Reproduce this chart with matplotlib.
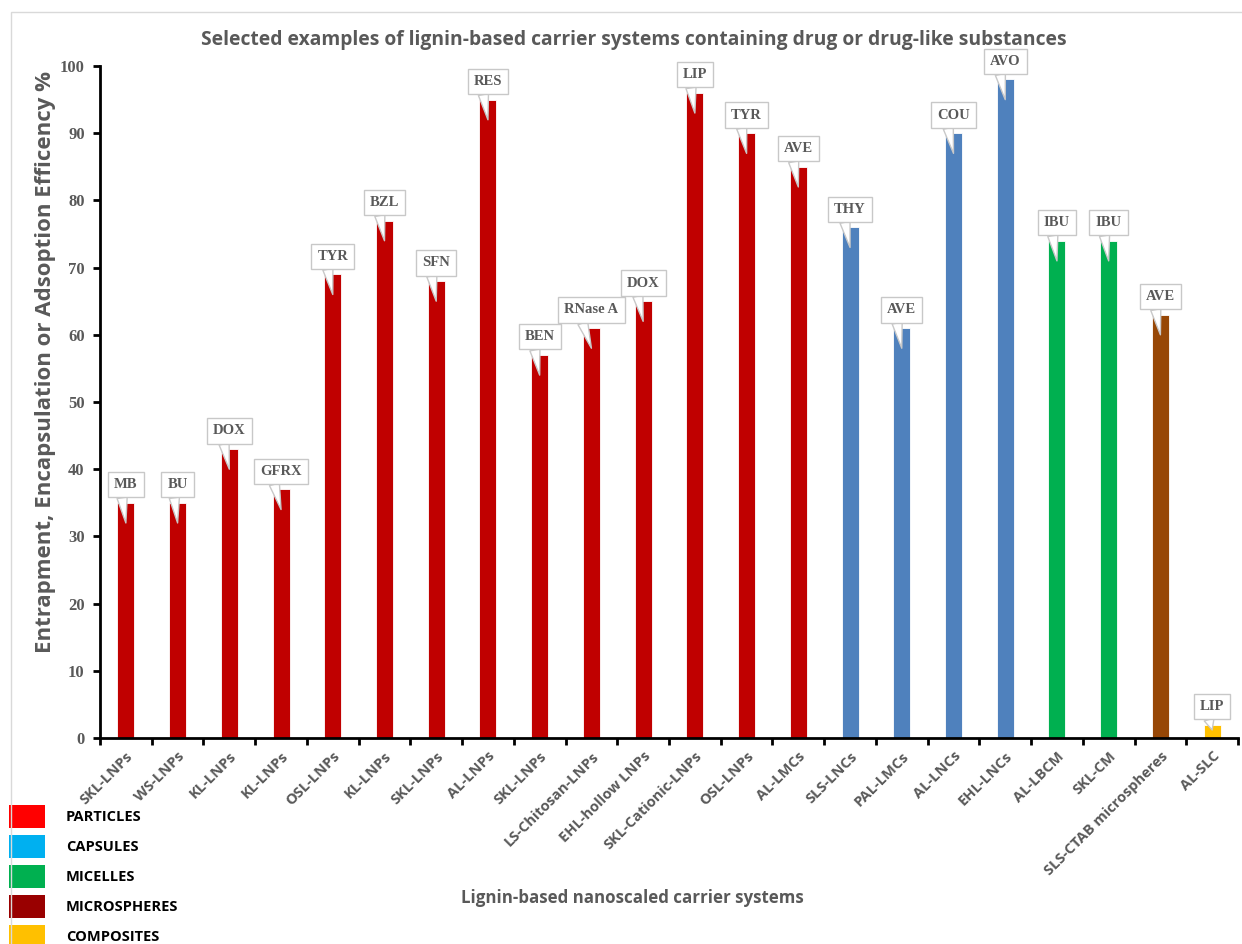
import matplotlib.pyplot as plt
from matplotlib.patches import Rectangle

# carrier systems, efficiency values and the loaded drug for each bar
systems = ['SKL-LNPs', 'WS-LNPs', 'KL-LNPs', 'KL-LNPs', 'OSL-LNPs', 'KL-LNPs', 'SKL-LNPs',
           'AL-LNPs', 'SKL-LNPs', 'LS-Chitosan-LNPs', 'EHL-hollow LNPs', 'SKL-Cationic-LNPs',
           'OSL-LNPs', 'AL-LMCs', 'SLS-LNCs', 'PAL-LMCs', 'AL-LNCs', 'EHL-LNCs', 'AL-LBCM',
           'SKL-CM', 'SLS-CTAB microspheres', 'AL-SLC']
efficiency = [35, 35, 43, 37, 69, 77, 68, 95, 57, 61, 65, 96, 90, 85, 76, 61, 90, 98, 74, 74, 63, 2]
drugs = ['MB', 'BU', 'DOX', 'GFRX', 'TYR', 'BZL', 'SFN', 'RES', 'BEN', 'RNase A', 'DOX', 'LIP',
         'TYR', 'AVE', 'THY', 'AVE', 'COU', 'AVO', 'IBU', 'IBU', 'AVE', 'LIP']
groups = ['P'] * 14 + ['C'] * 4 + ['M'] * 2 + ['S'] + ['X']

bar_colors = {'P': '#C00000', 'C': '#4F81BD', 'M': '#00B050', 'S': '#974706', 'X': '#FFC000'}
legend_names = ['PARTICLES', 'CAPSULES', 'MICELLES', 'MICROSPHERES', 'COMPOSITES']
legend_colors = ['#FF0000', '#00B0F0', '#00B050', '#990000', '#FFC000']

grey = '#595959'
W, H = 1242, 944
fig = plt.figure(figsize=(W / 100, H / 100), dpi=100)
ax = fig.add_axes([100 / W, 1 - 738 / H, 1138 / W, 672 / H])

x = list(range(len(systems)))
ax.bar(x, efficiency, width=0.33, color=[bar_colors[g] for g in groups],
       edgecolor='white', linewidth=0.6, zorder=2)

# callout boxes with the drug name, tail pointing into the bar top
for xi, v, d in zip(x, efficiency, drugs):
    tip = v - 3.0 if v > 6 else v * 0.6
    ax.annotate(d, xy=(xi, tip), xytext=(xi, v + 2.7), annotation_clip=False,
                ha='center', va='center', fontsize=10.5, fontweight='bold',
                family='Liberation Serif', color=grey, zorder=4,
                bbox=dict(boxstyle='square,pad=0.42', fc='white', ec='#C8C8C8', lw=1),
                arrowprops=dict(arrowstyle='wedge,tail_width=0.7,shrink_factor=0.5',
                                fc='white', ec='#C8C8C8', lw=1, shrinkA=0, shrinkB=0,
                                relpos=(0.3, 0.0)))

ax.set_xlim(-0.5, len(systems) - 0.5)
ax.set_ylim(0, 100)
ax.set_yticks(range(0, 101, 10))
for lab in ax.get_yticklabels():
    lab.set_fontfamily('Liberation Serif')
    lab.set_fontweight('bold')
    lab.set_fontsize(12)
    lab.set_color(grey)

ax.set_xticks(x)
ax.set_xticklabels(systems, rotation=45, ha='right', rotation_mode='anchor',
                   fontsize=10.5, fontweight='bold', family='Open Sans', color=grey)
ax.set_xticks([i - 0.5 for i in range(len(systems) + 1)], minor=True)
ax.tick_params(axis='x', which='major', length=0, pad=8)
ax.tick_params(axis='x', which='minor', length=5, width=2, direction='out')
ax.tick_params(axis='y', length=5, width=2, direction='out', pad=6)

for s in ['top', 'right']:
    ax.spines[s].set_visible(False)
for s in ['left', 'bottom']:
    ax.spines[s].set_linewidth(2)

fig.text(634 / W, 1 - 40 / H, 'Selected examples of lignin-based carrier systems containing drug or drug-like substances',
         ha='center', va='center', fontsize=13.9, fontweight='bold', family='Open Sans', color=grey)
fig.text(632 / W, 1 - 898 / H, 'Lignin-based nanoscaled carrier systems',
         ha='center', va='center', fontsize=12.2, fontweight='bold', family='Open Sans', color=grey)
fig.text(46 / W, 1 - 362 / H, 'Entrapment, Encapsulation or Adsoption Efficency %', rotation=90,
         ha='center', va='center', fontsize=16, fontweight='bold', family='Open Sans', color=grey)

# category key drawn by hand in the lower left corner
for i, (name, c) in enumerate(zip(legend_names, legend_colors)):
    top = 805 + i * 30
    fig.patches.append(Rectangle((9 / W, 1 - (top + 23) / H), 36 / W, 23 / H,
                                 transform=fig.transFigure, fc=c, ec='none'))
    fig.text(66 / W, 1 - (top + 12) / H, name, ha='left', va='center',
             fontsize=10.5, fontweight='bold', family='Open Sans', color='black')

# thin frame around the chart area
fig.patches.append(Rectangle((11 / W, -0.1), 1.2, 1 - 12 / H + 0.1, transform=fig.transFigure,
                             fill=False, ec='#D9D9D9', lw=1))

fig.savefig('out.png', dpi=100)
